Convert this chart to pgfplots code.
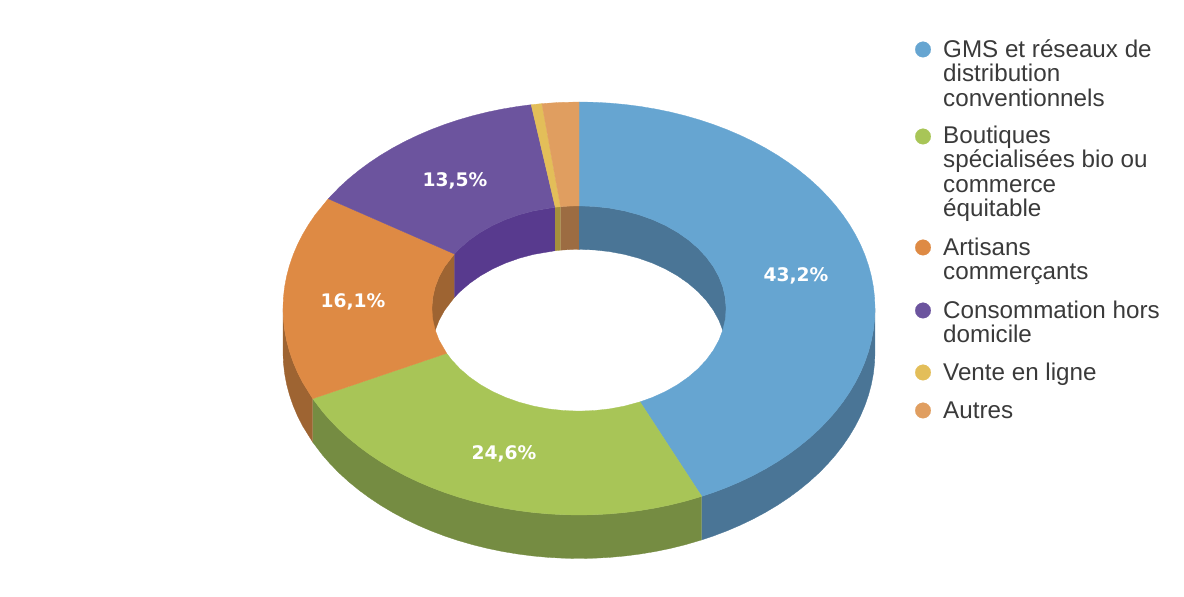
\documentclass[border=0pt]{standalone}
\usepackage{fontspec}
\setmainfont{Liberation Sans}
\newfontfamily\labelfont[BoldFont={DejaVu Sans Bold}]{DejaVu Sans}
\usepackage{pgfplots}
\pgfplotsset{compat=1.18}

\definecolor{cBlue}{HTML}{66A5D1}
\definecolor{cBlueD}{HTML}{4A7596}
\definecolor{cGreen}{HTML}{A8C557}
\definecolor{cGreenD}{HTML}{758C42}
\definecolor{cOrange}{HTML}{DE8A44}
\definecolor{cOrangeD}{HTML}{9E6432}
\definecolor{cPurple}{HTML}{6C549E}
\definecolor{cPurpleD}{HTML}{583A8E}
\definecolor{cYellow}{HTML}{E3BE59}
\definecolor{cYellowD}{HTML}{A58F3C}
\definecolor{cTan}{HTML}{E09E60}
\definecolor{cTanD}{HTML}{9C6C42}
\definecolor{cText}{HTML}{3A3A3A}

% a = angle clockwise from the top of the ring, r = radius factor, z = 1 at the bottom of the wall
\pgfplotsset{
  /pgfplots/table/face/.style={row sep=\\,
    x expr={579+296*\thisrow{r}*sin(\thisrow{a})},
    y expr={288.5+206.5*\thisrow{r}*cos(\thisrow{a})}},
  /pgfplots/table/wall/.style={row sep=\\,
    x expr={579+296*#1*sin(\thisrow{a})},
    y expr={288.5+206.5*#1*cos(\thisrow{a})-43.5*\thisrow{z}}},
}
\tikzset{
  part/.style={fill=#1, draw=#1, line width=0.3pt},
  dot/.style={only marks, mark=*, mark size=7.8pt, mark options={draw=#1, fill=#1, line width=0.2pt}},
  share/.style={font=\labelfont\bfseries\fontsize{18.7}{20}\selectfont, text=white, inner sep=0pt},
  entry/.style={anchor=base west, align=left, inner sep=0pt, text=cText,
    font=\fontsize{24.2}{24.5}\selectfont},
}

\begin{document}
\begin{tikzpicture}
\begin{axis}[
    hide axis,
    scale only axis,
    width=1184pt,
    height=597pt,
    xmin=0, xmax=1184,
    ymin=0, ymax=597,
]
% hide axis leaves the frame out of the bounding box
\path (axis cs:0,0) rectangle (axis cs:1184,597);

% outer walls
\addplot[part=cBlueD] table[wall=1] {a z\\90 0\\93 0\\96 0\\99 0\\102 0\\105 0\\108 0\\111 0\\114 0\\117 0\\120 0\\123 0\\126 0\\129 0\\132 0\\135 0\\138 0\\141 0\\144 0\\147 0\\150 0\\153 0\\155.5 0\\155.5 1\\153 1\\150 1\\147 1\\144 1\\141 1\\138 1\\135 1\\132 1\\129 1\\126 1\\123 1\\120 1\\117 1\\114 1\\111 1\\108 1\\105 1\\102 1\\99 1\\96 1\\93 1\\90 1\\};
\addplot[part=cGreenD] table[wall=1] {a z\\155.5 0\\159 0\\162 0\\165 0\\168 0\\171 0\\174 0\\177 0\\180 0\\183 0\\186 0\\189 0\\192 0\\195 0\\198 0\\201 0\\204 0\\207 0\\210 0\\213 0\\216 0\\219 0\\222 0\\225 0\\228 0\\231 0\\234 0\\237 0\\240 0\\244.1 0\\244.1 1\\240 1\\237 1\\234 1\\231 1\\228 1\\225 1\\222 1\\219 1\\216 1\\213 1\\210 1\\207 1\\204 1\\201 1\\198 1\\195 1\\192 1\\189 1\\186 1\\183 1\\180 1\\177 1\\174 1\\171 1\\168 1\\165 1\\162 1\\159 1\\155.5 1\\};
\addplot[part=cOrangeD] table[wall=1] {a z\\244.1 0\\249 0\\252 0\\255 0\\258 0\\261 0\\264 0\\267 0\\270 0\\270 1\\267 1\\264 1\\261 1\\258 1\\255 1\\252 1\\249 1\\244.1 1\\};

% inner walls, seen through the hole
\addplot[part=cOrangeD] table[wall=0.497] {a z\\270 0\\276 0\\282 0\\288 0\\294 0\\302.1 0\\302.1 1\\294 1\\288 1\\282 1\\276 1\\270 1\\};
\addplot[part=cPurpleD] table[wall=0.497] {a z\\302.1 0\\306 0\\312 0\\318 0\\324 0\\330 0\\336 0\\342 0\\350.7 0\\350.7 1\\342 1\\336 1\\330 1\\324 1\\318 1\\312 1\\306 1\\302.1 1\\};
\addplot[part=cYellowD] table[wall=0.497] {a z\\350.7 0\\352.8 0\\352.8 1\\350.7 1\\};
\addplot[part=cTanD] table[wall=0.497] {a z\\352.8 0\\356 0\\360 0\\360 1\\356 1\\352.8 1\\};
\addplot[part=cBlueD] table[wall=0.497] {a z\\0 0\\6 0\\12 0\\18 0\\24 0\\30 0\\36 0\\42 0\\48 0\\54 0\\60 0\\66 0\\72 0\\78 0\\84 0\\90 0\\90 1\\84 1\\78 1\\72 1\\66 1\\60 1\\54 1\\48 1\\42 1\\36 1\\30 1\\24 1\\18 1\\12 1\\6 1\\0 1\\};

% top faces
\addplot[part=cBlue] table[face] {a r\\0 1\\3 1\\6 1\\9 1\\12 1\\15 1\\18 1\\21 1\\24 1\\27 1\\30 1\\33 1\\36 1\\39 1\\42 1\\45 1\\48 1\\51 1\\54 1\\57 1\\60 1\\63 1\\66 1\\69 1\\72 1\\75 1\\78 1\\81 1\\84 1\\87 1\\90 1\\93 1\\96 1\\99 1\\102 1\\105 1\\108 1\\111 1\\114 1\\117 1\\120 1\\123 1\\126 1\\129 1\\132 1\\135 1\\138 1\\141 1\\144 1\\147 1\\150 1\\153 1\\155.5 1\\155.5 0.497\\150 0.497\\144 0.497\\138 0.497\\132 0.497\\126 0.497\\120 0.497\\114 0.497\\108 0.497\\102 0.497\\96 0.497\\90 0.497\\84 0.497\\78 0.497\\72 0.497\\66 0.497\\60 0.497\\54 0.497\\48 0.497\\42 0.497\\36 0.497\\30 0.497\\24 0.497\\18 0.497\\12 0.497\\6 0.497\\0 0.497\\0 1\\};
\addplot[part=cGreen] table[face] {a r\\155.5 1\\159 1\\162 1\\165 1\\168 1\\171 1\\174 1\\177 1\\180 1\\183 1\\186 1\\189 1\\192 1\\195 1\\198 1\\201 1\\204 1\\207 1\\210 1\\213 1\\216 1\\219 1\\222 1\\225 1\\228 1\\231 1\\234 1\\237 1\\240 1\\244.1 1\\244.1 0.497\\240 0.497\\234 0.497\\228 0.497\\222 0.497\\216 0.497\\210 0.497\\204 0.497\\198 0.497\\192 0.497\\186 0.497\\180 0.497\\174 0.497\\168 0.497\\162 0.497\\155.5 0.497\\155.5 1\\};
\addplot[part=cOrange] table[face] {a r\\244.1 1\\249 1\\252 1\\255 1\\258 1\\261 1\\264 1\\267 1\\270 1\\273 1\\276 1\\279 1\\282 1\\285 1\\288 1\\291 1\\294 1\\297 1\\302.1 1\\302.1 0.497\\294 0.497\\288 0.497\\282 0.497\\276 0.497\\270 0.497\\264 0.497\\258 0.497\\252 0.497\\244.1 0.497\\244.1 1\\};
\addplot[part=cPurple] table[face] {a r\\302.1 1\\306 1\\309 1\\312 1\\315 1\\318 1\\321 1\\324 1\\327 1\\330 1\\333 1\\336 1\\339 1\\342 1\\345 1\\348 1\\350.7 1\\350.7 0.497\\342 0.497\\336 0.497\\330 0.497\\324 0.497\\318 0.497\\312 0.497\\306 0.497\\302.1 0.497\\302.1 1\\};
\addplot[part=cYellow] table[face] {a r\\350.7 1\\352.8 1\\352.8 0.497\\350.7 0.497\\350.7 1\\};
\addplot[part=cTan] table[face] {a r\\352.8 1\\356 1\\360 1\\360 0.497\\356 0.497\\352.8 0.497\\352.8 1\\};

% shares
\node[share] at (axis cs:796,321) {43,2\%};
\node[share] at (axis cs:504,143.5) {24,6\%};
\node[share] at (axis cs:353,295.5) {16,1\%};
\node[share] at (axis cs:455,416.5) {13,5\%};

% legend
\addplot[dot=cBlue] coordinates {(923,547.5)};
\addplot[dot=cGreen] coordinates {(923,460.5)};
\addplot[dot=cOrange] coordinates {(923,349.5)};
\addplot[dot=cPurple] coordinates {(923,286.5)};
\addplot[dot=cYellow] coordinates {(923,224.5)};
\addplot[dot=cTan] coordinates {(923,186.5)};

% base of a node with several lines is its last line
\node[entry] at (axis cs:943,490.5) {GMS et réseaux de\\distribution\\conventionnels};
\node[entry] at (axis cs:943,380) {Boutiques\\spécialisées bio ou\\commerce\\équitable};
\node[entry] at (axis cs:943,317) {Artisans\\commerçants};
\node[entry] at (axis cs:943,254) {Consommation hors\\domicile};
\node[entry] at (axis cs:943,216.5) {Vente en ligne};
\node[entry] at (axis cs:943,178.5) {Autres};

\end{axis}
\end{tikzpicture}
\end{document}
